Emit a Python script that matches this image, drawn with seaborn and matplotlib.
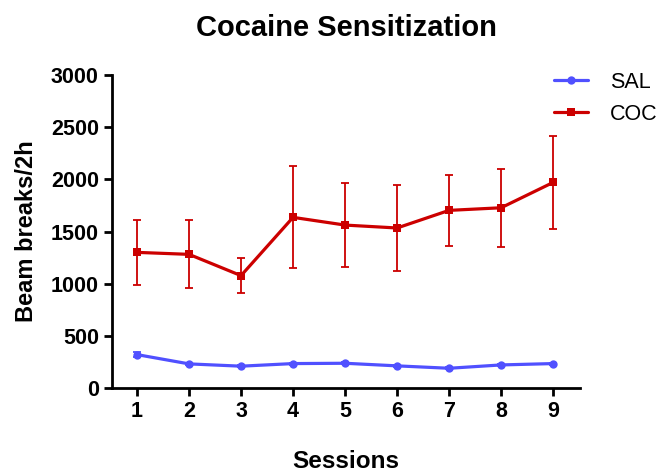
import seaborn as sns
import pandas as pd
import matplotlib.pyplot as plt

sessions = [1, 2, 3, 4, 5, 6, 7, 8, 9]
sal_mean = [319, 230, 208, 233, 236, 211, 188, 220, 233]
sal_sem = [25, 10, 10, 10, 10, 10, 10, 12, 10]
coc_mean = [1300, 1281, 1077, 1636, 1562, 1534, 1703, 1728, 1971]
coc_sem = [310, 325, 166, 490, 402, 413, 340, 372, 450]

groups = ['SAL', 'COC']
colors = {'SAL': '#5050FF', 'COC': '#CC0000'}

df = pd.concat([
    pd.DataFrame({'session': sessions, 'value': sal_mean, 'sem': sal_sem, 'group': 'SAL'}),
    pd.DataFrame({'session': sessions, 'value': coc_mean, 'sem': coc_sem, 'group': 'COC'}),
], ignore_index=True)

sns.set_style("ticks")
plt.rcParams['font.family'] = ['Liberation Sans', 'DejaVu Sans']
plt.rcParams['text.color'] = 'black'
plt.rcParams['axes.labelcolor'] = 'black'

fig = plt.figure(figsize=(6.63, 4.73), dpi=100)
ax = fig.add_axes([0.169, 0.180, 0.706, 0.661])

# error bars first so lines sit on top
for g in groups:
    d = df[df['group'] == g]
    ax.errorbar(d['session'], d['value'], yerr=d['sem'], fmt='none',
                ecolor=colors[g], elinewidth=1.3, capsize=3, capthick=1.3, zorder=2)

sns.lineplot(data=df, x='session', y='value', hue='group', style='group',
             hue_order=groups, style_order=groups, palette=colors,
             markers={'SAL': 'o', 'COC': 's'}, dashes=False,
             markersize=6, markeredgewidth=0, linewidth=2.3,
             errorbar=None, ax=ax, zorder=3)

ax.set_xlim(0.52, 9.52)
ax.set_ylim(0, 3000)
ax.set_xticks(sessions)
ax.set_yticks([0, 500, 1000, 1500, 2000, 2500, 3000])
sns.despine(ax=ax)
for s in ['left', 'bottom']:
    ax.spines[s].set_linewidth(2.0)
    ax.spines[s].set_color('black')
ax.tick_params(axis='both', direction='out', length=6, width=2.0, colors='black',
               labelcolor='black', labelsize=15.5)
for lbl in ax.get_xticklabels() + ax.get_yticklabels():
    lbl.set_fontweight('bold')

ax.set_xlabel('Sessions', fontsize=17.5, fontweight='bold', labelpad=20)
ax.set_ylabel('Beam breaks/2h', fontsize=17, fontweight='bold', labelpad=9)
ax.set_title('Cocaine Sensitization', fontsize=21, fontweight='bold', pad=28)

handles, labels = ax.get_legend_handles_labels()
ax.legend(handles, labels, loc='upper left', bbox_to_anchor=(0.835, 0.848),
          bbox_transform=fig.transFigure, frameon=False, fontsize=15.5,
          handlelength=1.6, handletextpad=1.0, labelspacing=0.5,
          borderpad=0, borderaxespad=0)

fig.savefig('out.png', dpi=100)
